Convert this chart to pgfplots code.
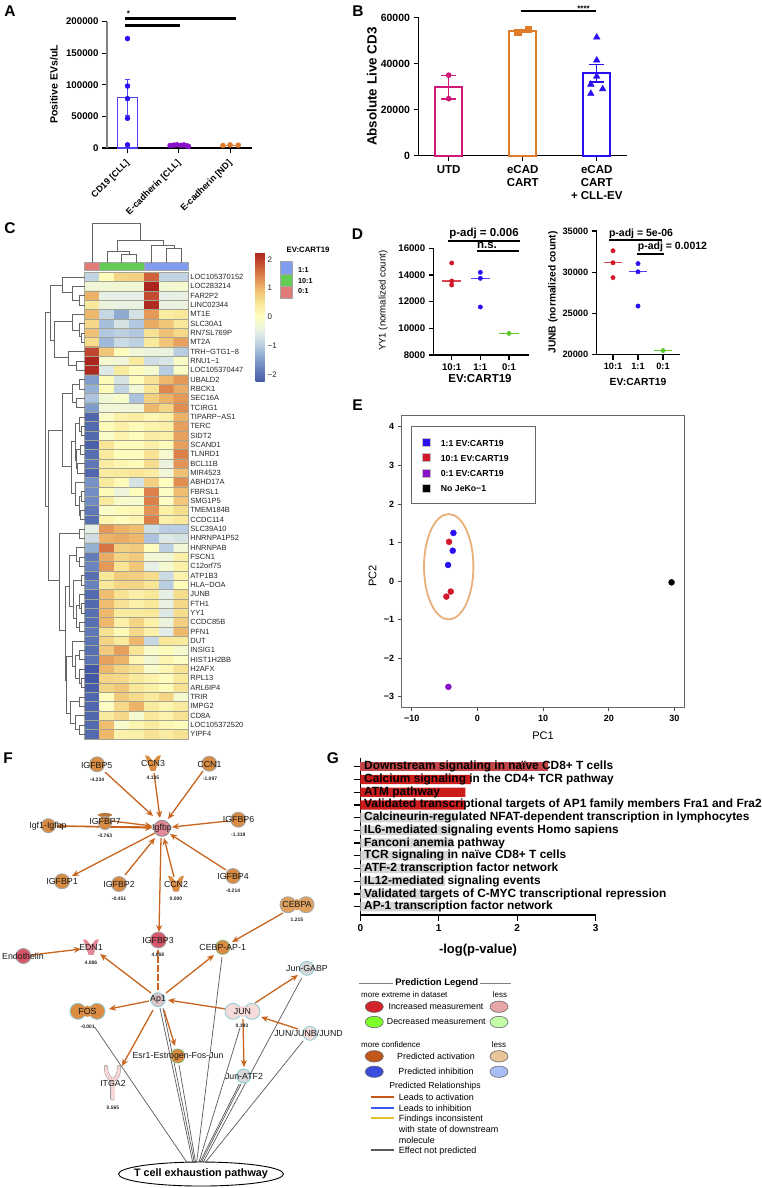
\documentclass[border=0pt]{standalone}
\usepackage{fontspec}
\setmainfont{Liberation Sans}
\usepackage{pgfplots}
\pgfplotsset{compat=1.18}
\usetikzlibrary{arrows.meta}
\definecolor{cblue}{HTML}{2A10F0}
\definecolor{cbar}{HTML}{5040F5}
\definecolor{cpurple}{HTML}{8A10C8}
\definecolor{corange}{HTML}{E07B28}
\definecolor{cpink}{HTML}{D0187A}
\definecolor{cred}{HTML}{D2182A}
\definecolor{cgreen}{HTML}{5FC82A}
\definecolor{arrowc}{HTML}{C8641E}
\definecolor{nodeo}{HTML}{D98C42}
\definecolor{nodeol}{HTML}{E0A060}
\definecolor{noder}{HTML}{D8566A}
\definecolor{nodep}{HTML}{F5DADA}
\definecolor{ringc}{HTML}{8CCFD8}
\definecolor{ringg}{HTML}{8FB070}
\definecolor{greyn}{HTML}{D8D8D8}
\definecolor{lora}{RGB}{200,88,26}
\definecolor{lblu}{RGB}{58,90,238}
\definecolor{lyel}{RGB}{224,192,48}
\definecolor{hgrid}{RGB}{165,165,150}
\newcommand\fs[1]{\fontsize{#1}{#1}\selectfont}
\pgfplotsset{
  gp/.style={scale only axis, axis lines=left, axis line style={-,line width=1.4pt},
    tick align=outside, tick style={black,line width=1.2pt}, major tick length=5pt,
    scaled ticks=false, clip=false,
    /pgf/number format/assume math mode=true, /pgf/number format/1000 sep={}, /pgf/number format/fixed},
  colormap={hm}{rgb255(0)=(69,88,165) rgb255(75)=(127,156,203) rgb255(125)=(184,205,226)
    rgb255(175)=(230,240,230) rgb255(225)=(255,255,192) rgb255(275)=(248,230,150)
    rgb255(325)=(238,184,108) rgb255(375)=(218,122,70) rgb255(450)=(172,36,30)}
}
\begin{document}
\begin{tikzpicture}
\useasboundingbox (0pt,0pt) rectangle (762pt,-1188pt);
% ---------- A
\begin{axis}[gp, at={(107pt,-148pt)}, anchor=south west, width=145pt, height=126.5pt,
  xmin=-0.4, xmax=2.427, ymin=0, ymax=200000,
  y axis line style={color=gray}, xtick={0,1,2},
  xticklabels={CD19 [CLL],E-cadherin [CLL],E-cadherin [ND]},
  ytick={0,50000,100000,150000,200000},
  yticklabel style={font=\fs{9.7}\bfseries},
  xticklabel style={font=\fs{9}\bfseries,xshift=-2.5pt,yshift=-4.5pt,rotate=45,anchor=north east,inner sep=1pt},
  ylabel={Positive EVs/uL},
  every axis y label/.style={at={(axis description cs:-0.366,0.503)},rotate=90,anchor=center,font=\fs{10.5}\bfseries}]
\addplot[ybar,bar shift=0pt,bar width=20.5pt,draw=cbar,fill=white,line width=1.3pt] coordinates {(0,80000)};
\addplot[draw=none,mark=none,error bars/.cd,y dir=both,y explicit,error bar style={cbar,line width=.8pt},error mark options={cbar,mark size=2.5pt,line width=.8pt,rotate=90}] coordinates {(0,80000)+-(0,28000)};
\addplot[only marks,mark=*,mark size=2.5pt,color=cblue] coordinates {(0,173000)(0,98000)(0,78000)(0,47000)(0,5000)};
\addplot[only marks,mark=*,mark size=2.5pt,color=cpurple] coordinates {(0.83,4000)(0.9,4500)(0.96,5200)(1.04,4300)(1.1,4800)(1.16,3500)(1.19,2500)};
\addplot[corange,line width=1.2pt] coordinates {(1.86,4200)(2.16,4200)};
\addplot[only marks,mark=*,mark size=2.5pt,color=corange] coordinates {(1.86,4000)(2,5000)(2.16,4500)};
\end{axis}
% ---------- B
\begin{axis}[gp, at={(418.5pt,-155.7pt)}, anchor=south west, width=208.5pt, height=138pt,
  xmin=-0.408, xmax=2.409, ymin=0, ymax=60000, xtick={0,1,2},
  xticklabels={UTD,{eCAD\\CART},{eCAD\\CART\\+ CLL-EV}},
  ytick={0,20000,40000,60000},
  yticklabel style={font=\fs{10.5}\bfseries},
  xticklabel style={font=\fontsize{11.5}{13}\selectfont\bfseries,align=center,yshift=-1pt},
  ylabel={Absolute Live CD3},
  every axis y label/.style={at={(axis description cs:-0.224,0.5)},rotate=90,anchor=center,font=\fs{13.4}\bfseries}]
\addplot[ybar,bar shift=0pt,bar width=27pt,draw=cpink,fill=white,line width=1.8pt] coordinates {(0,29800)};
\addplot[ybar,bar shift=0pt,bar width=27pt,draw=corange,fill=white,line width=1.8pt] coordinates {(1,54200)};
\addplot[ybar,bar shift=0pt,bar width=27pt,draw=cblue,fill=white,line width=1.8pt] coordinates {(2,35800)};
\addplot[draw=none,mark=none,error bars/.cd,y dir=both,y explicit,error bar style={cpink,line width=1.3pt},error mark options={cpink,mark size=7.5pt,line width=1.3pt,rotate=90}] coordinates {(0,29800)+-(0,5200)};
\addplot[draw=none,mark=none,error bars/.cd,y dir=both,y explicit,error bar style={corange,line width=.8pt},error mark options={corange,mark size=5pt,line width=.8pt,rotate=90}] coordinates {(1,54200)+-(0,600)};
\addplot[draw=none,mark=none,error bars/.cd,y dir=both,y explicit,error bar style={cblue,line width=1.3pt},error mark options={cblue,mark size=7.5pt,line width=1.3pt,rotate=90}] coordinates {(2,35800)+-(0,3800)};
\addplot[only marks,mark=*,mark size=2.6pt,color=cpink] coordinates {(0,35000)(0,24800)};
\addplot[only marks,mark=square*,mark size=3.2pt,color=corange] coordinates {(0.93,53800)(1.07,55000)};
\addplot[only marks,mark=triangle*,mark size=3.8pt,color=cblue] coordinates {(2,51500)(2,41500)(2,34500)(1.92,31000)(2.08,29000)(1.92,27000)};
\end{axis}
% ---------- C heatmap
\begin{axis}[scale only axis, at={(84.7pt,-272.3pt)}, anchor=north west, width=104pt, height=466.5pt,
  xmin=-0.5, xmax=6.5, ymin=0.5, ymax=50.5, y dir=reverse, axis line style={hgrid,line width=.5pt},
  xtick=\empty, ytick={1,2,...,50}, yticklabel pos=right, major tick length=0pt, minor tick length=0pt,
  minor xtick={0.5,1.5,2.5,3.5,4.5,5.5}, minor ytick={1.5,2.5,...,49.5},
  grid=minor, minor grid style={hgrid,line width=.5pt}, axis on top,
  yticklabels={LOC105370152,LOC283214,FAR2P2,LINC02344,MT1E,SLC30A1,RN7SL769P,MT2A,TRH−GTG1−8,RNU1−1,LOC105370447,UBALD2,RBCK1,SEC16A,TCIRG1,TIPARP−AS1,TERC,SIDT2,SCAND1,TLNRD1,BCL11B,MIR4523,ABHD17A,FBRSL1,SMG1P5,TMEM184B,CCDC114,SLC39A10,HNRNPA1P52,HNRNPAB,FSCN1,C12orf75,ATP1B3,HLA−DOA,JUNB,FTH1,YY1,CCDC85B,PFN1,DUT,INSIG1,HIST1H2BB,H2AFX,RPL13,ARL6IP4,TRIR,IMPG2,CD8A,LOC105372520,YIPF4},
  yticklabel style={font=\fs{7.5},text=black!85,inner sep=1.5pt},
  colormap name=hm, point meta min=-2.25, point meta max=2.25, colorbar,
  colorbar style={at={(parent axis.north east)},anchor=north west,xshift=58.3pt,yshift=20pt,
    width=9pt,height=129.4pt,axis line style={draw=none},major tick length=0pt,grid=none,
    ytick={-2,-1,0,1,2},yticklabels={−2,−1,0,1,2},yticklabel style={font=\fs{8},text=black!85,inner sep=3pt}}]
\addplot[matrix plot*,mesh/cols=7,point meta=explicit] table[row sep=\\,x index=0,y index=1,meta index=2,header=false] {
0 1 -0.9\\1 1 0.1\\2 1 0.7\\3 1 0.75\\4 1 1.7\\5 1 -0.9\\6 1 -0.9\\
0 2 -0.3\\1 2 -0.25\\2 2 -0.25\\3 2 -0.25\\4 2 2.25\\5 2 -0.25\\6 2 -0.2\\
0 3 1.05\\1 3 -0.5\\2 3 -0.5\\3 3 -0.5\\4 3 1.9\\5 3 -0.5\\6 3 -0.45\\
0 4 0.45\\1 4 -0.4\\2 4 -0.45\\3 4 -0.45\\4 4 2.2\\5 4 -0.45\\6 4 -0.4\\
0 5 1.0\\1 5 -0.85\\2 5 -1.35\\3 5 -0.7\\4 5 1.25\\5 5 0.35\\6 5 0.45\\
0 6 0.65\\1 6 -1.15\\2 6 -0.7\\3 6 -1.05\\4 6 1.1\\5 6 0.85\\6 6 0.45\\
0 7 0.9\\1 7 -1.05\\2 7 -0.95\\3 7 -1.05\\4 7 0.55\\5 7 0.9\\6 7 0.65\\
0 8 0.6\\1 8 -1.2\\2 8 -0.8\\3 8 -0.95\\4 8 0.4\\5 8 0.85\\6 8 1.2\\
0 9 1.95\\1 9 0.85\\2 9 0.05\\3 9 -0.3\\4 9 -0.4\\5 9 -0.4\\6 9 -1.0\\
0 10 2.25\\1 10 -0.2\\2 10 -0.3\\3 10 0.4\\4 10 -0.75\\5 10 -0.65\\6 10 -0.1\\
0 11 2.2\\1 11 -0.6\\2 11 0.4\\3 11 0.05\\4 11 -0.2\\5 11 -1\\6 11 -0.1\\
0 12 -1.5\\1 12 0.1\\2 12 -0.7\\3 12 0.05\\4 12 0.55\\5 12 1.0\\6 12 1.25\\
0 13 -1.3\\1 13 0.1\\2 13 -0.9\\3 13 -0.25\\4 13 0.5\\5 13 1.4\\6 13 1.1\\
0 14 -1.1\\1 14 -0.25\\2 14 -0.15\\3 14 -1.1\\4 14 0.75\\5 14 1.05\\6 14 1.25\\
0 15 -1.5\\1 15 -0.3\\2 15 -0.3\\3 15 -0.3\\4 15 1.0\\5 15 0.7\\6 15 1.35\\
0 16 -2.1\\1 16 -0.1\\2 16 0.3\\3 16 0.35\\4 16 0.15\\5 16 0.3\\6 16 1.05\\
0 17 -2.05\\1 17 0.1\\2 17 0.3\\3 17 0.1\\4 17 0.25\\5 17 0.3\\6 17 1.2\\
0 18 -2.05\\1 18 -0.1\\2 18 0.25\\3 18 0.05\\4 18 0.35\\5 18 0.3\\6 18 1.2\\
0 19 -2.15\\1 19 0.5\\2 19 0.1\\3 19 0.1\\4 19 0.3\\5 19 0.1\\6 19 1.2\\
0 20 -2.0\\1 20 0.4\\2 20 0.05\\3 20 0.05\\4 20 0.55\\5 20 -0.2\\6 20 1.45\\
0 21 -1.9\\1 21 0.35\\2 21 0.2\\3 21 0.1\\4 21 0.6\\5 21 -0.4\\6 21 1.3\\
0 22 -2.1\\1 22 0.35\\2 22 0.4\\3 22 0.5\\4 22 0.35\\5 22 -0.3\\6 22 0.9\\
0 23 -1.6\\1 23 0.4\\2 23 0.1\\3 23 -0.7\\4 23 0.75\\5 23 0\\6 23 1.35\\
0 24 -1.65\\1 24 0.1\\2 24 -0.35\\3 24 0.05\\4 24 1.45\\5 24 -0.05\\6 24 0.95\\
0 25 -1.7\\1 25 0.4\\2 25 -0.15\\3 25 -0.2\\4 25 1.45\\5 25 -0.05\\6 25 0.85\\
0 26 -1.9\\1 26 -0.1\\2 26 0.1\\3 26 0.15\\4 26 1.3\\5 26 0.3\\6 26 0.6\\
0 27 -2.0\\1 27 0.2\\2 27 0.05\\3 27 0.2\\4 27 1.45\\5 27 0.3\\6 27 0.45\\
0 28 -0.5\\1 28 1.25\\2 28 1.05\\3 28 0.95\\4 28 -0.75\\5 28 -1\\6 28 -1\\
0 29 -0.75\\1 29 1.05\\2 29 1.1\\3 29 1.0\\4 29 -1.1\\5 29 -0.6\\6 29 -0.7\\
0 30 -1.3\\1 30 1.55\\2 30 0.75\\3 30 0.8\\4 30 0.05\\5 30 -0.95\\6 30 -0.3\\
0 31 -1.85\\1 31 1.1\\2 31 0.7\\3 31 0.8\\4 31 -0.25\\5 31 -0.3\\6 31 0.3\\
0 32 -1.75\\1 32 1.25\\2 32 0.5\\3 32 0.85\\4 32 -0.5\\5 32 -0.2\\6 32 0.3\\
0 33 -2.0\\1 33 0.45\\2 33 0.8\\3 33 0.75\\4 33 0.6\\5 33 -0.8\\6 33 0.25\\
0 34 -1.8\\1 34 0.45\\2 34 0.7\\3 34 0.7\\4 34 0.5\\5 34 -1\\6 34 0.1\\
0 35 -2.05\\1 35 0.95\\2 35 0.55\\3 35 0.3\\4 35 0.45\\5 35 -0.5\\6 35 0.6\\
0 36 -2.05\\1 36 0.95\\2 36 0.55\\3 36 0.3\\4 36 0.45\\5 36 -0.45\\6 36 0.65\\
0 37 -2.0\\1 37 1.0\\2 37 0.4\\3 37 0.4\\4 37 0.45\\5 37 -0.6\\6 37 0.6\\
0 38 -2.0\\1 38 1.0\\2 38 0.3\\3 38 0.7\\4 38 0.3\\5 38 -0.4\\6 38 0.75\\
0 39 -1.9\\1 39 0.55\\2 39 0.1\\3 39 0.65\\4 39 0.3\\5 39 -0.55\\6 39 1.0\\
0 40 -1.95\\1 40 0.7\\2 40 0.4\\3 40 1.0\\4 40 -0.85\\5 40 0.45\\6 40 0.4\\
0 41 -2.0\\1 41 0.8\\2 41 1.2\\3 41 0.5\\4 41 -0.15\\5 41 0.1\\6 41 -0.2\\
0 42 -1.95\\1 42 1.2\\2 42 1.05\\3 42 0.15\\4 42 -0.25\\5 42 0.2\\6 42 -0.05\\
0 43 -2.25\\1 43 1.0\\2 43 0.7\\3 43 0.55\\4 43 -0.15\\5 43 0.15\\6 43 0.55\\
0 44 -2.25\\1 44 0.7\\2 44 0.65\\3 44 0.4\\4 44 0.25\\5 44 0.05\\6 44 0.45\\
0 45 -2.2\\1 45 0.7\\2 45 0.85\\3 45 0.45\\4 45 0.3\\5 45 0.1\\6 45 0.55\\
0 46 -2.1\\1 46 0.05\\2 46 0.8\\3 46 0.6\\4 46 0.4\\5 46 0.7\\6 46 -0.2\\
0 47 -2.1\\1 47 -0.05\\2 47 0.65\\3 47 1.05\\4 47 0.4\\5 47 0.2\\6 47 0.4\\
0 48 -2.1\\1 48 0.4\\2 48 0.65\\3 48 -0.2\\4 48 0.45\\5 48 0.25\\6 48 0.55\\
0 49 -2.05\\1 49 0.95\\2 49 -0.15\\3 49 0.2\\4 49 0.4\\5 49 0.15\\6 49 0.05\\
0 50 -2.05\\1 50 1.0\\2 50 0.25\\3 50 0.3\\4 50 0.55\\5 50 0.35\\6 50 0.55\\
};
\end{axis}
% left dendrogram (units: 1/3 px)
\newcommand\dbr[5]{\addplot[black!60,line width=.7pt] coordinates {(#1,#3)(#2,#3)(#2,#4)(#5,#4)};}
\begin{axis}[scale only axis,hide axis,clip=false,at={(40pt,-270pt)},anchor=north west,width=44.67pt,height=470pt,
  xmin=0,xmax=134,ymin=0,ymax=1410,y dir=reverse]
\dbr{30}{16}{128}{708}{26}
\dbr{67}{30}{45}{210}{42}
\dbr{134}{67}{21}{68}{97}
\dbr{134}{97}{49}{90}{118}
\dbr{134}{118}{77}{105}{134}
\dbr{97}{42}{155}{262}{85}
\dbr{134}{97}{133}{180}{118}
\dbr{134}{118}{161}{200}{125}
\dbr{134}{125}{189}{217}{134}
\dbr{134}{85}{245}{287}{108}
\dbr{134}{108}{273}{301}{134}
\dbr{67}{26}{480}{930}{58}
\dbr{97}{67}{370}{590}{93}
\dbr{118}{97}{343}{398}{108}
\dbr{134}{118}{329}{357}{134}
\dbr{134}{108}{385}{413}{134}
\dbr{105}{93}{515}{670}{105}
\dbr{118}{105}{460}{570}{110}
\dbr{134}{118}{441}{483}{125}
\dbr{134}{125}{469}{497}{134}
\dbr{122}{110}{539}{595}{113}
\dbr{134}{122}{525}{553}{134}
\dbr{134}{113}{581}{609}{134}
\dbr{134}{105}{637}{705}{118}
\dbr{125}{118}{679}{735}{122}
\dbr{134}{125}{665}{693}{134}
\dbr{134}{122}{721}{749}{134}
\dbr{118}{58}{791}{1080}{75}
\dbr{134}{118}{777}{805}{134}
\dbr{88}{75}{950}{1230}{80}
\dbr{108}{88}{855}{1010}{100}
\dbr{134}{108}{833}{875}{118}
\dbr{134}{118}{861}{889}{134}
\dbr{125}{100}{931}{1045}{110}
\dbr{134}{125}{917}{945}{134}
\dbr{118}{110}{1005}{1071}{118}
\dbr{134}{118}{973}{1015}{125}
\dbr{134}{125}{1001}{1029}{134}
\dbr{134}{118}{1057}{1085}{134}
\dbr{97}{80}{1160}{1330}{90}
\dbr{134}{97}{1113}{1190}{105}
\dbr{118}{105}{1155}{1225}{118}
\dbr{134}{118}{1141}{1169}{134}
\dbr{134}{118}{1197}{1239}{125}
\dbr{134}{125}{1225}{1253}{134}
\dbr{118}{90}{1295}{1360}{105}
\dbr{134}{118}{1281}{1309}{134}
\dbr{134}{105}{1337}{1379}{118}
\dbr{134}{118}{1365}{1393}{134}
\end{axis}
% ---------- D left
\begin{axis}[gp, at={(433.7pt,-355pt)}, anchor=south west, width=95.6pt, height=106.7pt,
  xmin=-0.628, xmax=2.709, ymin=8000, ymax=16000, xtick={0,1,2}, xticklabels={10:1,1:1,0:1},
  ytick={8000,10000,12000,14000,16000},
  tick label style={font=\fs{9.6}\bfseries},
  ylabel={YY1  (normalized count)}, xlabel={EV:CART19},
  every axis y label/.style={at={(axis description cs:-0.53,0.508)},rotate=90,anchor=center,font=\fs{9.6}},
  every axis x label/.style={at={(axis description cs:0.484,-0.225)},anchor=center,font=\fs{11.5}\bfseries}]
\addplot[cred!80,line width=1.2pt] coordinates {(-0.34,13550)(0.34,13550)};
\addplot[only marks,mark=*,mark size=2.2pt,color=cred] coordinates {(0,14900)(0,13550)(0,13250)};
\addplot[cblue!80,line width=1.2pt] coordinates {(0.66,13750)(1.34,13750)};
\addplot[only marks,mark=*,mark size=2.2pt,color=cblue] coordinates {(1,14200)(1,13750)(1,11600)};
\addplot[cgreen,line width=1.2pt] coordinates {(1.66,9620)(2.34,9620)};
\addplot[only marks,mark=*,mark size=2.2pt,color=cgreen] coordinates {(2,9620)};
\end{axis}
% ---------- D right
\begin{axis}[gp, at={(596.7pt,-354.7pt)}, anchor=south west, width=83.3pt, height=123.7pt,
  xmin=-0.652, xmax=2.68, ymin=20000, ymax=35000, xtick={0,1,2}, xticklabels={10:1,1:1,0:1},
  ytick={20000,25000,30000,35000},
  tick label style={font=\fs{9.2}\bfseries},
  ylabel={JUNB (normalized count)}, xlabel={EV:CART19},
  every axis y label/.style={at={(axis description cs:-0.525,0.503)},rotate=90,anchor=center,font=\fs{10.2}\bfseries},
  every axis x label/.style={at={(axis description cs:0.496,-0.22)},anchor=center,font=\fs{10.3}\bfseries}]
\addplot[cred!80,line width=1.2pt] coordinates {(-0.347,31150)(0.347,31150)};
\addplot[only marks,mark=*,mark size=2.2pt,color=cred] coordinates {(0,32600)(0,31150)(0,29350)};
\addplot[cblue!80,line width=1.2pt] coordinates {(0.653,30050)(1.347,30050)};
\addplot[only marks,mark=*,mark size=2.2pt,color=cblue] coordinates {(1,31050)(1,30050)(1,25900)};
\addplot[cgreen,line width=1.2pt] coordinates {(1.653,20500)(2.347,20500)};
\addplot[only marks,mark=*,mark size=2.2pt,color=cgreen] coordinates {(2,20500)};
\end{axis}
% ---------- E
\begin{axis}[scale only axis, at={(401.7pt,-707.3pt)}, anchor=south west, width=282.6pt, height=292pt,
  xmin=-11.52, xmax=31.5, ymin=-3.27, ymax=4.30, axis line style={black!60,line width=.8pt},
  tick style={black!70,line width=.8pt}, tick align=outside, major tick length=4pt,
  xtick={-10,0,10,20,30}, xticklabels={−10,0,10,20,30}, xtick pos=bottom, ytick pos=left,
  ytick={-3,-2,-1,0,1,2,3,4}, yticklabels={−3,−2,−1,0,1,2,3,4},
  tick label style={font=\fs{9}\bfseries},
  ylabel={PC2}, xlabel={PC1},
  every axis y label/.style={at={(axis description cs:-0.103,0.45)},rotate=90,anchor=center,font=\fs{11}},
  every axis x label/.style={at={(axis description cs:0.5,-0.098)},anchor=center,font=\fs{11}}]
\addplot[only marks,mark=*,mark size=3pt,color=cblue] coordinates {(-3.65,1.25)(-3.75,0.79)(-4.46,0.42)};
\addplot[only marks,mark=*,mark size=3pt,color=cred] coordinates {(-4.31,1.02)(-4.05,-0.27)(-4.72,-0.4)};
\addplot[only marks,mark=*,mark size=3pt,color=cpurple] coordinates {(-4.41,-2.74)};
\addplot[only marks,mark=*,mark size=3pt,color=black] coordinates {(29.56,-0.03)};
\end{axis}
% ---------- G
\begin{axis}[gp, at={(360.3pt,-915pt)}, anchor=south west, width=235.4pt, height=157.3pt,
  xmin=0, xmax=3, ymin=0.293, ymax=12.65, y dir=reverse, xtick={0,1,2,3},
  ytick={1,2,...,12}, yticklabels={,,,,,,,,,,,}, major tick length=6pt,
  xticklabel style={font=\fs{10}\bfseries},
  xlabel={-log(p-value)},
  every axis x label/.style={at={(axis description cs:0.5,-0.222)},anchor=center,font=\fs{13}\bfseries}]
\addplot[xbar,bar shift=0pt,bar width=9.3pt,fill={rgb,255:red,196;green,70;blue,72},draw=none] coordinates {(2.395,1)};
\addplot[xbar,bar shift=0pt,bar width=9.3pt,fill={rgb,255:red,204;green,28;blue,28},draw=none] coordinates {(1.41,2)(1.34,3)(1.335,4)};
\addplot[xbar,bar shift=0pt,bar width=9.3pt,fill={rgb,255:red,214;green,214;blue,214},draw=none] coordinates {(1.23,5)(1.22,6)(1.19,7)(1.165,8)(1.12,9)(1.08,10)(1.02,11)(0.995,12)};
\begin{scope}[every node/.style={anchor=west,xshift=2.7pt,font=\fs{11.9}\bfseries,inner sep=1pt}]
\node at (axis cs:0,1) {Downstream signaling in naïve CD8+ T cells};
\node at (axis cs:0,2) {Calcium signaling in the CD4+ TCR pathway};
\node at (axis cs:0,3) {ATM pathway};
\node at (axis cs:0,4) {Validated transcriptional targets of AP1 family members Fra1 and Fra2};
\node at (axis cs:0,5) {Calcineurin-regulated NFAT-dependent transcription in lymphocytes};
\node at (axis cs:0,6) {IL6-mediated signaling events Homo sapiens};
\node at (axis cs:0,7) {Fanconi anemia pathway};
\node at (axis cs:0,8) {TCR signaling in naïve CD8+ T cells};
\node at (axis cs:0,9) {ATF-2 transcription factor network};
\node at (axis cs:0,10) {IL12-mediated signaling events};
\node at (axis cs:0,11) {Validated targets of C-MYC transcriptional repression};
\node at (axis cs:0,12) {AP-1 transcription factor network};
\end{scope}
\end{axis}
% ---------- page overlay (coordinates in pixels of the figure)
\newcommand\seg[5][black]{\addplot[#1,line width=#2] coordinates {#3#4#5};}
\newcommand\rect[5]{\addplot[fill=#5,draw=gray!70,line width=.5pt] coordinates {(#1,#2)(#3,#2)(#3,#4)(#1,#4)} --cycle;}
\newcommand\lab[4][]{\node[inner sep=0pt,align=center,#1] at (axis cs:#2,#3) {#4};}
\newcommand\arr[4]{\addplot[arrowc,line width=1.3pt,-{Stealth[length=7pt,width=6pt]}] coordinates {(#1,#2)(#3,#4)};}
\newcommand\glin[4]{\addplot[black!65,line width=.7pt] coordinates {(#1,#2)(#3,#4)};}
\newcommand\nd[5]{\addplot[only marks,mark=*,mark size=#3pt,mark options={fill=#4,draw=#5,line width=.9pt}] coordinates {(#1,#2)};}
\newcommand\tl[6]{\addplot[only marks,mark=*,mark size=8pt,mark options={fill=#5,draw=#6,line width=.9pt}] coordinates {(#1,#4)(#3,#4)};
  \addplot[only marks,mark=*,mark size=7pt,mark options={fill=#5,draw=#5,line width=.4pt}] coordinates {(#1,#4)(#3,#4)};
  \addplot[only marks,mark=*,mark size=5.4pt,mark options={fill=#5,draw=#5,line width=.4pt}] coordinates {(#2,#4)};}
\newcommand\bfly[3]{\fill[#3] (axis cs:#1,#2) +(-8pt,8pt) -- +(-4.5pt,7.5pt) -- +(0pt,2pt) -- +(4.5pt,7.5pt) -- +(8pt,8pt) -- +(5pt,0pt) -- +(2.5pt,-7.5pt) -- +(-2.5pt,-7.5pt) -- +(-5pt,0pt) -- cycle;}
\newcommand\elli[5]{\draw[fill=#3,draw=black!60,line width=.6pt] (axis cs:#1,#2) ellipse[x radius=#4pt,y radius=#5pt];}
\begin{axis}[scale only axis,hide axis,clip=false,at={(0pt,0pt)},anchor=north west,width=762pt,height=1188pt,
  xmin=0,xmax=762,ymin=0,ymax=1188,y dir=reverse]
% panel letters
\begin{scope}[every node/.style={font=\fs{15.5}\bfseries,inner sep=0pt}]
\node at (axis cs:10,11) {A}; \node at (axis cs:358,11) {B}; \node at (axis cs:10,228) {C};
\node at (axis cs:357.5,234) {D}; \node at (axis cs:357.5,405) {E}; \node at (axis cs:8,758) {F}; \node at (axis cs:333,758) {G};
\end{scope}
% significance bars
\seg{2.6pt}{(125,18.5)}{(236,18.5)}{}
\seg{2.6pt}{(125,25.5)}{(180,25.5)}{}
\lab[font=\fs{8}\bfseries]{128.5}{13.5}{*}
\seg{2.4pt}{(520.7,11)}{(596,11)}{}
\lab[font=\fs{8}\bfseries]{583.5}{8.5}{****}
\seg{1.8pt}{(448,241)}{(520,241)}{}
\lab[font=\fs{11.5}\bfseries]{484}{234}{p-adj = 0.006}
\seg{1.8pt}{(477,251)}{(519,251)}{}
\lab[font=\fs{11.5}\bfseries]{487}{245}{n.s.}
\seg{1.8pt}{(609,240)}{(662,240)}{}
\lab[font=\fs{10.5}\bfseries]{641}{233.5}{p-adj = 5e-06}
\seg{1.8pt}{(637,254)}{(664,254)}{}
\lab[font=\fs{10.5}\bfseries]{672.5}{247}{p-adj = 0.0012}
% C annotation + top dendrogram
\rect{84.7}{262.7}{99.6}{270}{{rgb,255:red,224;green,123;blue,120}}
\rect{99.6}{262.7}{144.2}{270}{{rgb,255:red,99;green,204;blue,82}}
\rect{144.2}{262.7}{188.7}{270}{{rgb,255:red,127;green,156;blue,238}}
\addplot[black!60,line width=.7pt] coordinates {(92.1,262.7)(92.1,223.3)(140.3,223.3)(140.3,240.7)};
\addplot[black!60,line width=.7pt] coordinates {(117.3,251.7)(117.3,240.7)(163,240.7)(163,245)};
\addplot[black!60,line width=.7pt] coordinates {(107,262.7)(107,251.7)(129,251.7)(129,254.3)};
\addplot[black!60,line width=.7pt] coordinates {(121.8,262.7)(121.8,254.3)(136.6,254.3)(136.6,262.7)};
\addplot[black!60,line width=.7pt] coordinates {(151.5,262.7)(151.5,245)(173.9,245)(173.9,248.3)};
\addplot[black!60,line width=.7pt] coordinates {(166.4,262.7)(166.4,248.3)(181.2,248.3)(181.2,262.7)};
% C legend
\lab[font=\fs{7.8}\bfseries]{308}{250}{EV:CART19}
\rect{280}{261.7}{292.7}{274}{{rgb,255:red,127;green,156;blue,238}}
\rect{280}{274}{292.7}{286.3}{{rgb,255:red,99;green,204;blue,82}}
\rect{280}{286.3}{292.7}{298.5}{{rgb,255:red,224;green,123;blue,120}}
\lab[font=\fs{7.2}\bfseries,anchor=west]{298}{270}{1:1}
\lab[font=\fs{7.2}\bfseries,anchor=west]{298}{281}{10:1}
\lab[font=\fs{7.2}\bfseries,anchor=west]{298}{291}{0:1}
% E legend and ellipse
\addplot[fill=white,draw=black!60,line width=.6pt] coordinates {(411.7,426.7)(535.3,426.7)(535.3,503.3)(411.7,503.3)} --cycle;
\addplot[only marks,mark=square*,mark size=4pt,mark options={fill=cblue,draw=gray!50}] coordinates {(426,442)};
\addplot[only marks,mark=square*,mark size=4pt,mark options={fill=cred,draw=gray!50}] coordinates {(426,457.3)};
\addplot[only marks,mark=square*,mark size=4pt,mark options={fill=cpurple,draw=gray!50}] coordinates {(426,472.7)};
\addplot[only marks,mark=square*,mark size=4pt,mark options={fill=black,draw=gray!50}] coordinates {(426,488)};
\lab[font=\fs{8.7}\bfseries,anchor=west]{440.7}{443}{1:1 EV:CART19}
\lab[font=\fs{8.7}\bfseries,anchor=west]{440.7}{458.3}{10:1 EV:CART19}
\lab[font=\fs{8.7}\bfseries,anchor=west]{440.7}{473.7}{0:1 EV:CART19}
\lab[font=\fs{8.7}\bfseries,anchor=west]{440.7}{488.7}{No JeKo−1}
\draw[color={rgb,255:red,232;green,176;blue,120},line width=1.8pt] (axis cs:448.7,566.7) ellipse[x radius=24.7pt,y radius=52.7pt];
% ---------- F edges
\glin{94.7}{1027}{186.7}{1162}
\glin{160}{1008}{192.7}{1162}
\glin{163}{1008}{194.3}{1162}
\glin{179}{1065}{195.5}{1162}
\glin{222}{957}{196.7}{1162}
\glin{240}{1028}{199}{1162}
\glin{239.3}{1084}{200}{1162}
\glin{241}{1084}{201.5}{1162}
\glin{301.7}{978}{203.3}{1162}
\glin{303.3}{1040.7}{205.7}{1162}
\arr{105}{772}{153}{816}
\arr{154}{773}{160}{818}
\arr{203}{771}{168}{819}
\arr{228}{821}{172}{827}
\arr{112}{821}{152}{826}
\arr{152}{827}{56}{826}
\arr{58}{826}{152}{828}
\arr{155}{833}{72}{876}
\arr{125}{875}{155}{838}
\arr{174}{877}{164}{838}
\arr{226}{870}{170}{834}
\arr{161}{838}{159}{932}
\arr{283}{913}{232}{942}
\arr{31}{955}{81}{949}
\arr{151}{993}{100}{954}
\addplot[arrowc,line width=1.3pt,dash pattern=on 7pt off 2pt] coordinates {(158,990)(158,950)};
\arr{166}{993}{214}{955}
\arr{149}{1001}{109}{1009}
\arr{164}{1010}{175}{1046}
\arr{153}{1010}{122}{1066}
\arr{226}{1009}{168}{1000}
\arr{255}{1003}{298}{975}
\arr{298}{1029}{261}{1017}
\arr{243}{1019}{244}{1067}
% ---------- F nodes
\nd{162}{828.3}{8}{noder!70!white}{black!45}
\nd{97}{764.3}{7.5}{nodeo}{gray!70}
\bfly{153}{763.3}{nodeo}
\nd{209.3}{763.7}{7.5}{nodeo}{gray!70}
\fill[nodeo!85!black] (axis cs:105,815) ellipse[x radius=7pt,y radius=2pt];
\nd{105}{823}{6.5}{nodeo}{gray!70}
\nd{48.3}{825.7}{7}{nodeo}{gray!70}
\nd{238.3}{819.7}{7.5}{nodeo}{gray!70}
\nd{62}{881.3}{7.5}{nodeo}{gray!70}
\nd{119}{884}{7.5}{nodeo}{gray!70}
\bfly{176}{884}{nodeo}
\nd{233}{876}{7.5}{nodeo}{gray!70}
\tl{288}{297}{306}{904.7}{nodeol}{gray!70}
\nd{158.3}{940}{8}{noder}{gray!70}
\bfly{91}{947.3}{noder!70!white}
\nd{23.3}{956}{7.5}{noder}{gray!70}
\nd{222.7}{947.3}{7}{nodeo}{ringg}
\nd{158}{999.7}{7}{black!10!nodep}{ringc}
\tl{78}{87.5}{97}{1011.3}{nodeo}{ringc}
\tl{233}{242.5}{252}{1011.3}{nodep}{ringc}
\nd{307}{968.3}{7}{greyn}{ringc}
\nd{310}{1033.3}{7}{nodep}{ringc}
\nd{177.7}{1056}{7}{nodeo}{ringg}
\nd{243.7}{1076}{7}{greyn}{ringc}
\draw[draw=black!40,double={rgb,255:red,248;green,214;blue,214},double distance=4pt,line width=.5pt,line cap=round] (axis cs:112.7,1098) -- (axis cs:112.7,1082);
\draw[draw=black!40,double={rgb,255:red,248;green,214;blue,214},double distance=3pt,line width=.5pt,line cap=round] (axis cs:106,1067) .. controls (axis cs:106,1076) and (axis cs:110,1079) .. (axis cs:112.7,1080) .. controls (axis cs:116,1079) and (axis cs:119,1076) .. (axis cs:119,1067);
\draw[fill=white,draw=black,line width=.9pt] (axis cs:201,1174) ellipse[x radius=82.5pt,y radius=12pt];
% ---------- prediction legend
\seg[black!50]{.8pt}{(359,983)}{(393,983)}{}
\seg[black!50]{.8pt}{(480,983)}{(510.7,983)}{}
\lab[font=\fs{9.5}\bfseries]{436.7}{982.7}{Prediction Legend}
\lab[font=\fs{8},anchor=west]{361}{994.7}{more extreme in dataset}
\lab[font=\fs{8}]{500}{994.7}{less}
\elli{374.3}{1006.7}{{rgb,255:red,210;green,35;blue,42}}{9}{5.7}
\elli{499}{1006.7}{{rgb,255:red,232;green,166;blue,166}}{9}{5.7}
\elli{374.3}{1022}{{rgb,255:red,127;green,255;blue,42}}{9}{5.7}
\elli{499}{1022}{{rgb,255:red,194;green,255;blue,168}}{9}{5.7}
\lab[font=\fs{8.8}]{436}{1006.7}{Increased measurement}
\lab[font=\fs{8.8}]{436.3}{1021.7}{Decreased measurement}
\lab[font=\fs{8},anchor=west]{361}{1044.3}{more confidence}
\lab[font=\fs{8}]{499}{1044.3}{less}
\elli{374.3}{1056.3}{{rgb,255:red,194;green,87;blue,26}}{9}{5.7}
\elli{499}{1056.3}{{rgb,255:red,232;green,196;blue,154}}{9}{5.7}
\elli{374.3}{1071.7}{{rgb,255:red,58;green,76;blue,221}}{9}{5.7}
\elli{499}{1071.7}{{rgb,255:red,168;green,190;blue,245}}{9}{5.7}
\lab[font=\fs{8.9}]{436}{1056}{Predicted activation}
\lab[font=\fs{8.9}]{436}{1071.3}{Predicted inhibition}
\lab[font=\fs{8.7}]{435}{1086.7}{Predicted Relationships}
\seg[lora]{2pt}{(371,1097.3)}{(394.3,1097.3)}{}
\seg[lblu]{2pt}{(371,1107.7)}{(394.3,1107.7)}{}
\seg[lyel]{2pt}{(371,1118.3)}{(394.3,1118.3)}{}
\seg[black!65]{2pt}{(371,1150.3)}{(394.3,1150.3)}{}
\lab[font=\fs{9},anchor=west]{398.7}{1097.5}{Leads to activation}
\lab[font=\fs{9},anchor=west]{398.7}{1108}{Leads to inhibition}
\lab[font=\fs{9},anchor=west]{398.7}{1118.7}{Findings inconsistent}
\lab[font=\fs{9},anchor=west]{398.7}{1129.7}{with state of downstream}
\lab[font=\fs{9},anchor=west]{398.7}{1140.3}{molecule}
\lab[font=\fs{9},anchor=west]{398.7}{1151}{Effect not predicted}
\end{axis}
% ---------- F labels (second overlay, above the nodes)
\begin{axis}[scale only axis,hide axis,clip=false,at={(0pt,0pt)},anchor=north west,width=762pt,height=1188pt,
  xmin=0,xmax=762,ymin=0,ymax=1188,y dir=reverse]
\addplot[draw=none,forget plot] coordinates {(0,0)(762,1188)};
\begin{scope}[every node/.style={font=\fs{8.8},text=black!90,inner sep=0pt}]
\node at (axis cs:96.7,765) {IGFBP5}; \node at (axis cs:153,763) {CCN3}; \node at (axis cs:209.5,764) {CCN1};
\node at (axis cs:105,821) {IGFBP7}; \node at (axis cs:48,826) {Igf1-Igfbp}; \node at (axis cs:238.5,819.7) {IGFBP6};
\node at (axis cs:162,828) {Igfbp}; \node at (axis cs:62,881.3) {IGFBP1}; \node at (axis cs:119,884) {IGFBP2};
\node at (axis cs:176,884) {CCN2}; \node at (axis cs:233,876) {IGFBP4}; \node at (axis cs:297,904.7) {CEBPA};
\node at (axis cs:158,940) {IGFBP3}; \node at (axis cs:91,947.3) {EDN1}; \node at (axis cs:23,956.5) {Endothelin};
\node at (axis cs:222.7,947.3) {CEBP-AP-1}; \node at (axis cs:158,999.7) {Ap1}; \node at (axis cs:87.5,1011.3) {FOS};
\node at (axis cs:242.5,1011.3) {JUN}; \node at (axis cs:307,968.3) {Jun-GABP}; \node at (axis cs:308.5,1033.3) {JUN/JUNB/JUND};
\node at (axis cs:178,1056) {Esr1-Estrogen-Fos-Jun}; \node at (axis cs:244,1076) {Jun-ATF2}; \node at (axis cs:113,1083.3) {ITGA2};
\end{scope}
\begin{scope}[every node/.style={font=\fs{5}\bfseries,text=black!85,inner sep=0pt}]
\node at (axis cs:97,780) {-4.234}; \node at (axis cs:153,777.7) {4.135}; \node at (axis cs:210,778.7) {-1.097};
\node at (axis cs:105,836) {-0.763}; \node at (axis cs:238.3,835) {-1.318}; \node at (axis cs:119,899) {-0.451};
\node at (axis cs:176,899) {0.000}; \node at (axis cs:233,891) {-0.214}; \node at (axis cs:297,920) {1.215};
\node at (axis cs:158,955) {4.668}; \node at (axis cs:91,962.3) {4.086}; \node at (axis cs:87.7,1026.7) {-0.001};
\node at (axis cs:242,1026) {0.193}; \node at (axis cs:113,1107.7) {0.565};
\end{scope}
\lab[font=\fs{10.8}\bfseries]{201}{1174}{T cell exhaustion pathway}
\end{axis}
\end{tikzpicture}
\end{document}
